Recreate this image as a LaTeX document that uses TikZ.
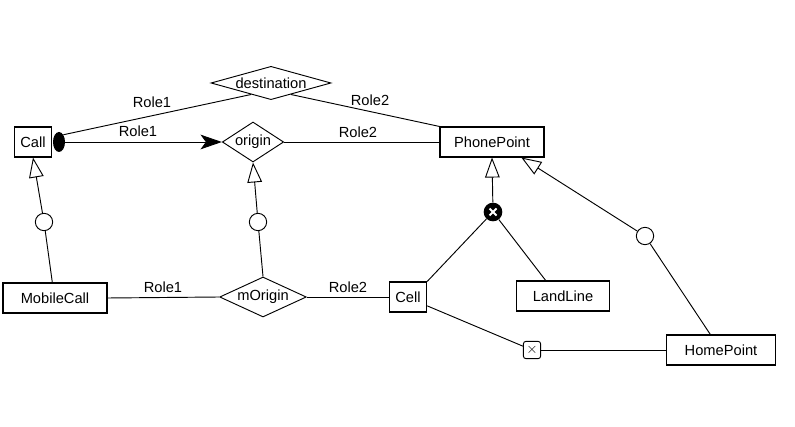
\documentclass[tikz,border=0pt]{standalone}
\usepackage{fontspec}
\setmainfont{Liberation Sans}
\usetikzlibrary{shapes.geometric,arrows.meta}
\begin{document}
\begin{tikzpicture}[x=0.75pt,y=-0.75pt,font=\fontsize{11}{13}\selectfont,
  box/.style={draw,fill=white,inner sep=0pt,minimum height=22.5pt,line width=0.8pt},
  rel/.style={draw,diamond,inner sep=0pt,line width=0.7pt},
  ln/.style={line width=0.7pt},
  ring/.style={draw,circle,fill=white,minimum size=13pt,inner sep=0pt,line width=0.7pt},
  gen/.style={ln,-{Triangle[open,length=15pt,width=11pt]}},
  lbl/.style={inner sep=1pt}]
\useasboundingbox (0,0) rectangle (795,427);
% nodes
\node[box,minimum width=28pt] (call) at (33,142) {Call};
\node[box,minimum width=78pt] (pp) at (492,142) {PhonePoint};
\node[box,minimum width=78pt] (mc) at (55,298) {MobileCall};
\node[box,minimum width=28pt] (cell) at (408,297) {Cell};
\node[box,minimum width=70pt] (ll) at (563,296) {LandLine};
\node[box,minimum width=82pt] (hp) at (721,350) {HomePoint};
\node[rel,minimum width=90pt,minimum height=25pt] (dest) at (271,83) {};
\node (destt) at (dest) {destination};
\node[rel,minimum width=46pt,minimum height=30pt] (orig) at (253,142) {};
\node (origt) at (orig) {origin};
\node[rel,minimum width=65pt,minimum height=30pt] (morig) at (263,297) {};
\node (morigt) at (morig) {mOrigin};
\node[ring] (c1) at (44,222) {};
\node[ring] (c2) at (258,222) {};
\node[ring] (c3) at (645,236) {};
\node[circle,fill=black,minimum size=14pt,inner sep=0pt] (xor) at (493,212) {};
\draw[white,line width=1.4pt] ([shift={(-3.5,-3.5)}]xor.center) -- ([shift={(3.5,3.5)}]xor.center) ([shift={(-3.5,3.5)}]xor.center) -- ([shift={(3.5,-3.5)}]xor.center);
\node[draw,rounded corners=2pt,minimum size=13pt,inner sep=0pt,fill=white,line width=0.7pt] (xb) at (532,350) {$\times$};
\node[ellipse,fill=black,minimum width=9pt,minimum height=15pt,inner sep=0pt] (ov) at (59,142) {};
% labels
\node[lbl] (l1) at (152,102) {Role1};
\node[lbl] (l2) at (370,100) {Role2};
\node[lbl] (l3) at (138,131) {Role1};
\node[lbl] (l4) at (358,132) {Role2};
\node[lbl] (l5) at (163,287) {Role1};
\node[lbl] (l6) at (348,287) {Role2};
% connectors
\draw[ln] (ov.north east) -- (dest.210);
\draw[ln] (dest.330) -- (pp.north west);
\draw[ln,-{Stealth[length=16pt,width=11pt,inset=4pt]}] (ov.east) -- (orig.west);
\draw[ln] (orig.east) -- (pp.west);
\draw[ln] (mc.east) -- (morig.west);
\draw[ln] (morig.east) -- (cell.west);
\draw[ln] ([xshift=-2pt]mc.north) -- (c1);
\draw[gen] (c1) -- (call.south);
\draw[ln] (morig.north) -- (c2);
\draw[gen] (c2) -- (orig.south);
\draw[gen] (xor) -- (pp.south);
\draw[ln] (xor) -- (cell.north east);
\draw[ln] (xor) -- ([xshift=-13pt]ll.north);
\draw[ln] ([xshift=-8pt]hp.north) -- (c3);
\draw[gen] (c3) -- ([xshift=22pt]pp.south);
\draw[ln] ([yshift=5pt]cell.south east) -- (xb);
\draw[ln] (xb) -- (hp.west);
\end{tikzpicture}
\end{document}
